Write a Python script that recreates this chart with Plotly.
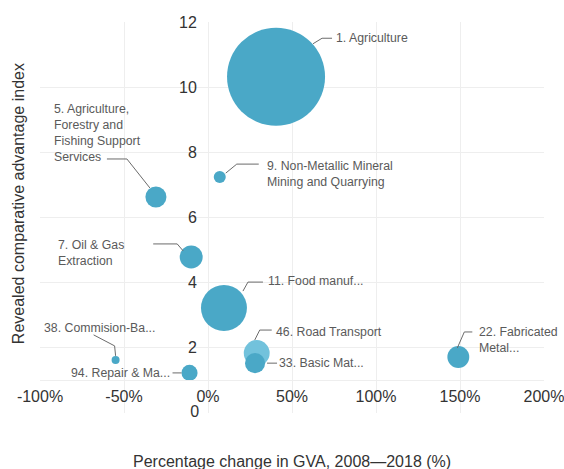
import plotly.graph_objects as go

# ---- data ----
sectors = ["1. Agriculture",
           "5. Agriculture,<br>Forestry and<br>Fishing Support<br>Services",
           "9. Non-Metallic Mineral<br>Mining and Quarrying",
           "7. Oil & Gas<br>Extraction",
           "11. Food manuf...",
           "38. Commision-Ba...",
           "94. Repair & Ma...",
           "46. Road Transport",
           "33. Basic Mat...",
           "22. Fabricated<br>Metal..."]
gva_change = [40.5, -31, 7, -10, 9.5, -55, -11, 29, 28, 149]      # % change in GVA 2008-2018
rca_index = [10.32, 6.63, 7.24, 4.79, 3.22, 1.63, 1.23, 1.84, 1.53, 1.72]
bubble_value = [100, 4.6, 1.5, 5.5, 22, 0.67, 2.7, 7.0, 4.2, 5.0]
x_ticks = [-100, -50, 0, 50, 100, 150, 200]
y_ticks = [0, 2, 4, 6, 8, 10, 12]

# ---- styles (label offsets in px: text dx, dy, anchor; leader path points) ----
label_style = {
    "1. Agriculture": dict(dx=58, dy=38.5, anchor="left", path=[(37, 33), (46, 38.5), (56, 38.5)]),
    "5.": dict(dx=-104, dy=64, anchor="left", path=[(-49, 38), (-29, 38), (-6, 9)]),
    "9.": dict(dx=45, dy=3, anchor="left", path=[(6, 4), (17, 13), (39, 13)]),
    "7.": dict(dx=-135, dy=3.5, anchor="left", path=[(-38, 13), (-14, 13), (-8, 6)]),
    "11.": dict(dx=42, dy=27, anchor="left", path=[(19, 17), (24, 26), (39, 26)]),
    "38.": dict(dx=-74, dy=32, anchor="left", path=[(-22, 25), (-1, 14), (0, 4)]),
    "94.": dict(dx=-18, dy=0, anchor="right", path=[(-17, 0), (-8, 0)]),
    "46.": dict(dx=17, dy=21, anchor="left", path=[(-2, 13), (3, 23), (15, 23)]),
    "33.": dict(dx=22, dy=0, anchor="left", path=[(12, 0), (22, 0)]),
    "22.": dict(dx=19, dy=17, anchor="left", path=[(-1, 9), (6, 25), (14, 25)]),
}

def style_for(name):
    for k, v in label_style.items():
        if name.startswith(k):
            return v
    return None

base_color = "#4aa8c7"
light_color = "#72c2dc"
colors = [light_color if s.startswith("46.") else base_color for s in sectors]

# draw order: Road Transport before Basic Mat so Basic sits on top
order = list(range(len(sectors)))
i46 = [i for i, s in enumerate(sectors) if s.startswith("46.")][0]
order.remove(i46)
i33 = [i for i, s in enumerate(sectors) if s.startswith("33.")][0]
order.insert(order.index(i33), i46)

max_d = 98
fig = go.Figure()
fig.add_trace(go.Scatter(
    x=[gva_change[i] for i in order],
    y=[rca_index[i] for i in order],
    mode="markers",
    marker=dict(size=[bubble_value[i] for i in order],
                sizemode="area",
                sizeref=2 * max(bubble_value) / max_d ** 2,
                color=[colors[i] for i in order],
                opacity=1,
                line=dict(width=0)),
    hoverinfo="skip",
    showlegend=False,
))

# y tick label at the origin, drawn as a text trace (Plotly drops it on this free axis)
fig.add_trace(go.Scatter(
    x=[0], y=[y_ticks[0]], mode="text",
    text=["<span>" + str(y_ticks[0]) + "&nbsp;&nbsp;</span>"],
    textposition="middle left",
    textfont=dict(family="Liberation Sans, Arial", size=16, color="#333333"),
    cliponaxis=False, hoverinfo="skip", showlegend=False,
))

shapes = []
annotations = []
for name, xv, yv in zip(sectors, gva_change, rca_index):
    st = style_for(name)
    pts = st["path"]
    path = "M " + " L ".join(f"{px},{py}" for px, py in pts)
    shapes.append(dict(type="path", xref="x", yref="y",
                       xsizemode="pixel", ysizemode="pixel",
                       xanchor=xv, yanchor=yv, path=path,
                       line=dict(color="#6b6b6b", width=1)))
    annotations.append(dict(x=xv, y=yv, xref="x", yref="y", text=name,
                            showarrow=False, xshift=st["dx"], yshift=st["dy"],
                            xanchor=st["anchor"], yanchor="middle", align="left",
                            font=dict(family="Liberation Sans, Arial", size=12.3, color="#5a5a5a")))

# axis titles
annotations.append(dict(text="Revealed comparative advantage index", xref="paper", yref="paper",
                        x=-0.043, y=0.535, textangle=-90, showarrow=False,
                        xanchor="center", yanchor="middle",
                        font=dict(family="Liberation Sans, Arial", size=16, color="#333333")))
annotations.append(dict(text="Percentage change in GVA, 2008\u20142018 (%)", xref="paper", yref="paper",
                        x=0.5, y=-0.123, showarrow=False, xanchor="center", yanchor="middle",
                        font=dict(family="Liberation Sans, Arial", size=16, color="#333333")))

fig.update_layout(
    width=564, height=469,
    margin=dict(l=40, r=20, t=22, b=56),
    paper_bgcolor="white", plot_bgcolor="white",
    template="none",
    font=dict(family="Liberation Sans, Arial", color="#333333"),
    xaxis=dict(range=[x_ticks[0], x_ticks[-1]], tickvals=x_ticks,
               ticktext=[f"{v}%" for v in x_ticks],
               showgrid=True, gridcolor="#eeeeee", gridwidth=1,
               zeroline=False, showline=True, linecolor="#eeeeee", linewidth=1,
               anchor="free", position=1 / 12,
               ticks="outside", ticklen=1, tickcolor="rgba(0,0,0,0)",
               ticklabeloverflow="allow",
               tickfont=dict(size=16, color="#333333")),
    yaxis=dict(range=[y_ticks[0], y_ticks[-1]], tickvals=y_ticks[1:],
               ticktext=[str(v) for v in y_ticks[1:]],
               showgrid=True, gridcolor="#eeeeee", gridwidth=1,
               zeroline=False, showline=False,
               anchor="free", position=1 / 3,
               ticks="outside", ticklen=8, tickcolor="rgba(0,0,0,0)",
               ticklabeloverflow="allow",
               tickfont=dict(size=16, color="#333333")),
    shapes=shapes,
    annotations=annotations,
)

fig.write_html("out.html")
